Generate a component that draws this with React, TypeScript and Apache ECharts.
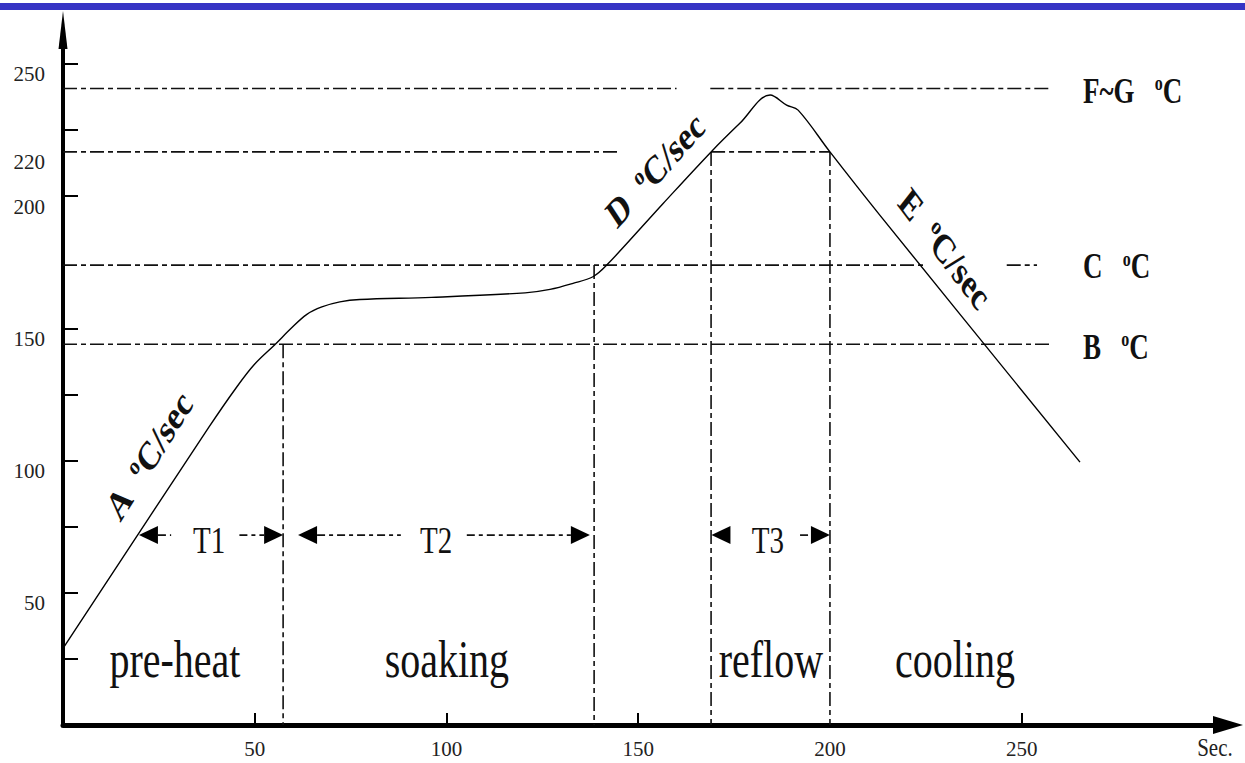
import React, { useEffect, useRef } from "react";
import * as echarts from "echarts";

// ---------------- data ----------------
// Reflow temperature profile: time (s) and temperature (°C)
const PROFILE_TIME = [0, 38, 45.4, 50, 55.3, 59.5, 63.5, 67.5, 72.2, 77.4, 96.1, 120.5, 127, 133, 138.2, 141.8, 156.5, 169, 176.5, 184.4, 188.7, 191.7, 200, 213, 265.2];
const PROFILE_TEMP = [29, 112.5, 128, 136.5, 143.9, 150, 155.2, 158.1, 160, 160.9, 161.7, 163.4, 164.7, 167, 169.5, 173.9, 197.2, 216.7, 227.5, 238.2, 234.4, 232.5, 216.7, 192.8, 99.4];

// Reference temperature levels (°C)
const LEVEL_FG = 240.7;
const LEVEL_220 = 216.7;
const LEVEL_C = 173.9;
const LEVEL_B = 144;

// Phase boundaries (s)
const T_PREHEAT_END = 57.4;
const T_SOAK_END = 138.5;
const T_REFLOW_START = 169;
const T_REFLOW_END = 200;

// Guide segments [x1, y1, x2, y2]
const GUIDE_SEGMENTS = [
  [0, LEVEL_FG, 160, LEVEL_FG],
  [168.8, LEVEL_FG, 257.4, LEVEL_FG],
  [0, LEVEL_220, 144.5, LEVEL_220],
  [T_REFLOW_START, LEVEL_220, T_REFLOW_END, LEVEL_220],
  [0, LEVEL_C, 224.3, LEVEL_C],
  [246.1, LEVEL_C, 254, LEVEL_C],
  [0, LEVEL_B, 257.4, LEVEL_B],
  [T_PREHEAT_END, LEVEL_B, T_PREHEAT_END, 0],
  [T_SOAK_END, LEVEL_C, T_SOAK_END, 0],
  [T_REFLOW_START, LEVEL_220, T_REFLOW_START, 0],
  [T_REFLOW_END, LEVEL_220, T_REFLOW_END, 0],
];

// Duration arrows: [left tip, left shaft end, right shaft start, right tip]
const ARROW_Y = 71.8;
const ARROW_SPANS = [
  [19.8, 28.2, 46, 57.4],
  [61.3, 88.1, 105.3, 137.4],
  [169.1, 169.1, 192.2, 200],
];

// Labels
const PHASE_NAMES = ["pre-heat", "soaking", "reflow", "cooling"];
const PHASE_X = [29.2, 100.1, 184.6, 232.6];
const PHASE_Y = 24.6;

const SPAN_NAMES = ["T1", "T2", "T3"];
const SPAN_X = [38.1, 97.3, 183.8];
const SPAN_LABEL_Y = 69.9;

const RATE_NAMES = ["A", "D", "E"];
const RATE_X = [22.4, 154.4, 229.9];
const RATE_Y = [101.8, 210.0, 180.0];

const LEVEL_NAMES = ["F~G", "C", "B"];
const LEVEL_LABEL_X = 266;
const LEVEL_LABEL_Y = [239.5, 173.3, 143];

const X_UNIT_LABEL = "Sec.";
const X_UNIT_POS = [300.4, -8.7];

// Axis ticks / labels
const X_TICKS = [50, 100, 150, 250];
const X_LABELS = [50, 100, 150, 200, 250];
const Y_TICKS = [25, 50, 75, 100, 125, 150, 200, 225, 250];
const Y_LABEL_VALUES = [50, 100, 150, 200, LEVEL_220, 250];
const Y_LABEL_TEXTS = ["50", "100", "150", "200", "220", "250"];

// ---------------- styles ----------------
const SERIF = '"Liberation Serif", "Times New Roman", serif';
const INK = "#111";
const SY = 1.3; // vertical stretch of the original artwork
const RATE_ANGLES = [58, 48, -53];
const GUIDE_DASH = [14, 4, 5, 4];

function stretchedText(pt: number[], style: any, angleDeg = 0, sy = SY) {
  const obs = (angleDeg * Math.PI) / 180;
  const r0 = Math.atan(Math.tan(obs) / sy);
  return {
    type: "group",
    x: pt[0],
    y: pt[1],
    scaleY: sy,
    children: [{ type: "text", rotation: r0, style }],
  };
}

const richBold = (size: number, supRatio: number) => ({
  b: { fontFamily: SERIF, fontWeight: "bold", fontSize: size, fill: INK, lineHeight: size + 2 },
  s: {
    fontFamily: SERIF,
    fontWeight: "bold",
    fontSize: Math.round(size * supRatio),
    fill: INK,
    verticalAlign: "top",
    lineHeight: Math.round(size * supRatio) + 2,
  },
});

function buildOption() {
  return {
    animation: false,
    backgroundColor: "#fff",
    graphic: [
      { type: "rect", left: 0, top: 3, shape: { width: 1245, height: 7 }, style: { fill: "#3634c4" }, z: 10 },
    ],
    grid: { left: 63, right: 17, top: 30, bottom: 38, containLabel: false, outerBoundsMode: "none" },
    xAxis: {
      type: "value",
      min: 0,
      max: 303.8,
      splitLine: { show: false },
      axisLine: { show: true, onZero: false, symbol: ["none", "triangle"], symbolSize: [18, 30], lineStyle: { color: "#000", width: 5 } },
      axisTick: { show: true, inside: true, length: 12, customValues: X_TICKS, lineStyle: { color: "#000", width: 2 } },
      axisLabel: { show: true, customValues: X_LABELS, margin: 13, fontFamily: SERIF, fontSize: 21, color: "#222" },
    },
    yAxis: {
      type: "value",
      min: 0,
      max: 262.8,
      splitLine: { show: false },
      axisLine: { show: true, onZero: false, symbol: ["none", "triangle"], symbolSize: [9, 38], lineStyle: { color: "#000", width: 4 } },
      axisTick: { show: true, inside: true, length: 15, customValues: Y_TICKS, lineStyle: { color: "#000", width: 2 } },
      axisLabel: {
        show: true,
        customValues: Y_LABEL_VALUES,
        margin: 18,
        verticalAlign: "top",
        fontFamily: SERIF,
        fontSize: 21,
        color: "#222",
        formatter: (v: number) => {
          const i = Y_LABEL_VALUES.findIndex((u) => Math.abs(u - v) < 1e-6);
          return i >= 0 ? Y_LABEL_TEXTS[i] : "";
        },
      },
    },
    series: [
      {
        type: "custom",
        name: "guides",
        silent: true,
        clip: false,
        encode: { x: [0, 2], y: [1, 3] },
        data: GUIDE_SEGMENTS,
        renderItem: (_p: any, api: any) => {
          const p1 = api.coord([api.value(0), api.value(1)]);
          const p2 = api.coord([api.value(2), api.value(3)]);
          return {
            type: "line",
            shape: { x1: p1[0], y1: p1[1], x2: p2[0], y2: p2[1] },
            style: { stroke: INK, lineWidth: 1.6, lineDash: GUIDE_DASH },
          };
        },
      },
      {
        type: "line",
        name: "profile",
        data: PROFILE_TIME.map((t, i) => [t, PROFILE_TEMP[i]]),
        showSymbol: false,
        symbol: "none",
        smooth: 0.35,
        lineStyle: { color: "#000", width: 1.4 },
        z: 3,
      },
      {
        type: "custom",
        name: "spans",
        silent: true,
        clip: false,
        encode: { x: [0, 3], y: 4 },
        data: ARROW_SPANS.map((s) => [...s, ARROW_Y]),
        renderItem: (_p: any, api: any) => {
          const y = api.value(4);
          const a = api.coord([api.value(0), y]);
          const b = api.coord([api.value(1), y]);
          const c = api.coord([api.value(2), y]);
          const d = api.coord([api.value(3), y]);
          const H = 19;
          const W = 9;
          const yy = a[1];
          const dash = { stroke: INK, lineWidth: 1.7, lineDash: [8, 4, 4, 4] };
          const children: any[] = [
            { type: "polygon", shape: { points: [[a[0], yy], [a[0] + H, yy - W], [a[0] + H, yy + W]] }, style: { fill: "#000" } },
            { type: "polygon", shape: { points: [[d[0], yy], [d[0] - H, yy - W], [d[0] - H, yy + W]] }, style: { fill: "#000" } },
            { type: "line", shape: { x1: c[0], y1: yy, x2: d[0] - H, y2: yy }, style: dash },
          ];
          if (b[0] > a[0] + H) {
            children.push({ type: "line", shape: { x1: a[0] + H, y1: yy, x2: b[0], y2: yy }, style: dash });
          }
          return { type: "group", children };
        },
      },
      {
        type: "custom",
        name: "phase labels",
        silent: true,
        clip: false,
        data: PHASE_X.map((x) => [x, PHASE_Y]),
        renderItem: (p: any, api: any) =>
          stretchedText(api.coord([api.value(0), api.value(1)]), {
            text: PHASE_NAMES[p.dataIndex],
            fontFamily: SERIF,
            fontSize: 40,
            fill: INK,
            align: "center",
            verticalAlign: "middle",
          }),
      },
      {
        type: "custom",
        name: "span labels",
        silent: true,
        clip: false,
        data: SPAN_X.map((x) => [x, SPAN_LABEL_Y]),
        renderItem: (p: any, api: any) =>
          stretchedText(api.coord([api.value(0), api.value(1)]), {
            text: SPAN_NAMES[p.dataIndex],
            fontFamily: SERIF,
            fontSize: 29,
            fill: INK,
            align: "center",
            verticalAlign: "middle",
          }),
      },
      {
        type: "custom",
        name: "rate labels",
        silent: true,
        clip: false,
        data: RATE_X.map((x, i) => [x, RATE_Y[i]]),
        renderItem: (p: any, api: any) =>
          stretchedText(
            api.coord([api.value(0), api.value(1)]),
            {
              text: `{b|${RATE_NAMES[p.dataIndex]}  }{s|o}{b|C/sec}`,
              rich: richBold(31, 0.62),
              align: "center",
              verticalAlign: "middle",
            },
            RATE_ANGLES[p.dataIndex]
          ),
      },
      {
        type: "custom",
        name: "level labels",
        silent: true,
        clip: false,
        data: LEVEL_LABEL_Y.map((y) => [LEVEL_LABEL_X, y]),
        renderItem: (p: any, api: any) =>
          stretchedText(api.coord([api.value(0), api.value(1)]), {
            text: `{b|${LEVEL_NAMES[p.dataIndex]}   }{s|o}{b|C}`,
            rich: richBold(27, 0.6),
            align: "left",
            verticalAlign: "middle",
          }),
      },
      {
        type: "custom",
        name: "unit label",
        silent: true,
        clip: false,
        data: [X_UNIT_POS],
        renderItem: (_p: any, api: any) =>
          stretchedText(
            api.coord([api.value(0), api.value(1)]),
            { text: X_UNIT_LABEL, fontFamily: SERIF, fontSize: 21, fill: "#222", align: "center", verticalAlign: "middle" },
            0,
            1.15
          ),
      },
    ],
  };
}

export default function App() {
  const ref = useRef<HTMLDivElement>(null);
  useEffect(() => {
    document.body.style.margin = "0";
    const chart = echarts.init(ref.current as HTMLDivElement, null, { renderer: "svg" });
    chart.setOption(buildOption() as any);
    return () => chart.dispose();
  }, []);
  return <div ref={ref} style={{ width: 1245, height: 763 }} />;
}
